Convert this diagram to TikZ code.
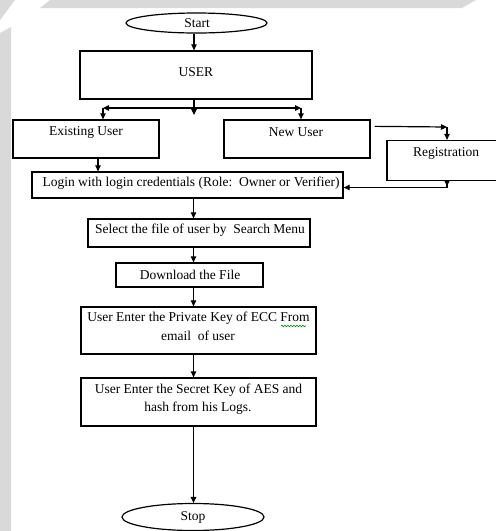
\documentclass[tikz,border=0pt]{standalone}
\usepackage{fontspec}
\setmainfont{Liberation Serif}
\usetikzlibrary{shapes.geometric,arrows.meta,decorations.pathmorphing,calc}
\begin{document}
\begin{tikzpicture}[x=1pt,y=1pt,
  box/.style={draw,line width=1.3pt,inner sep=0pt,fill=white},
  oval/.style={draw,ellipse,line width=1.2pt,inner sep=0pt,fill=white},
  txt/.style={inner sep=0pt,font=\fontsize{13.5}{17}\selectfont,align=center},
  arr/.style={-{Triangle[length=6pt,width=5.5pt]},line width=1.2pt},
  ln/.style={line width=1.2pt},
  bg/.style={fill=gray!30,draw=none}]
% page and margins
\fill[white] (0,0) rectangle (496,-531);
\useasboundingbox (0,0) rectangle (496,-531);
\fill[bg] (0,0) -- (15,0) -- (0,-20) -- cycle;
\fill[bg] (50,0) -- (476,0) -- (462,-8) -- (40,-8) -- cycle;
\fill[bg] (0,-33) -- (11,-27) -- (11,-531) -- (0,-531) -- cycle;
% spine coordinate
\coordinate (spine) at (193.5,0);
% nodes
\node[oval,minimum width=141pt,minimum height=20pt] (start) at (196.5,-23) {};
\node[txt] (startT) at (197,-23) {Start};
\node[box,minimum width=232pt,minimum height=48pt] (user) at (196,-75) {};
\node[txt] (userT) at (196,-72.5) {USER};
\node[box,minimum width=146pt,minimum height=38pt] (exist) at (86,-139) {};
\node[txt] (existT) at (86,-132) {Existing User};
\node[box,minimum width=146pt,minimum height=38pt] (newu) at (297,-139) {};
\node[txt] (newuT) at (296,-132) {New User};
\node[box,minimum width=116pt,minimum height=40pt] (reg) at (445,-160.5) {};
\node[txt] (regT) at (446,-153) {Registration};
\node[box,minimum width=311pt,minimum height=26pt] (login) at (187.5,-185) {};
\node[txt] (loginT) at (191,-183) {Login with login credentials (Role:\ \ Owner or Verifier)};
\node[box,minimum width=222pt,minimum height=28pt] (select) at (199,-233) {};
\node[txt] (selectT) at (200,-230) {Select the file of user by\ \ Search Menu};
\node[box,minimum width=147pt,minimum height=24pt] (down) at (189.5,-275) {};
\node[txt] (downT) at (190,-275) {Download the File};
\node[box,minimum width=235pt,minimum height=47pt] (priv) at (198.5,-330.5) {};
\node[txt] (privT1) at (198.5,-318) {User Enter the Private Key of ECC From};
\node[txt] (privT2) at (198,-336) {email\ \ of user};
\node[box,minimum width=235pt,minimum height=48pt] (secret) at (198.5,-402) {};
\node[txt] (secT1) at (198.5,-390) {User Enter the Secret Key of AES and};
\node[txt] (secT2) at (198,-408) {hash from his Logs.};
\node[oval,minimum width=142pt,minimum height=27pt] (stop) at (193,-517) {};
\node[txt] (stopT) at (193,-517) {Stop};
% spelling squiggle
\draw[green!55!black,line width=0.6pt,decorate,decoration={snake,segment length=3pt,amplitude=0.8pt}] (281,-326) -- (306,-326);
% coordinates for branch
\coordinate (split) at (194,-108);
\coordinate (sl) at (103,-108);
\coordinate (sr) at (301,-108);
\coordinate (nr) at (447,-127);
\coordinate (rl) at (447,-187.5);
% connectors
\draw[arr] (start.south -| split) -- (user.north -| split);
\draw[arr] (user.south -| split) -- ($(split)+(0,-7)$);
\draw[arr] (split) -- (sl);
\draw[arr] (split) -- (sr);
\draw[arr] (sl) -- (sl |- exist.north);
\draw[arr] (sr) -- (sr |- newu.north);
\draw[arr] ($(newu.north east)+(4,-7)$) -- (nr);
\draw[arr] (nr) -- (nr |- reg.north);
\draw[arr] ($(exist.south)+(12,0)$) -- ($(exist.south |- login.north)+(12,0)$);
\draw[arr] (reg.south -| nr) -- ($(reg.south -| nr)+(0,-5)$);
\draw[ln] (reg.south -| nr) -- (rl);
\draw[arr] (rl) -- (login.east |- rl);
\draw[arr] (login.south -| spine) -- (select.north -| spine);
\draw[arr] (select.south -| spine) -- (down.north -| spine);
\draw[arr] (down.south -| spine) -- (priv.north -| spine);
\draw[arr] (priv.south -| spine) -- (secret.north -| spine);
\draw[arr] (secret.south -| spine) -- (stop.north -| spine);
\end{tikzpicture}
\end{document}
